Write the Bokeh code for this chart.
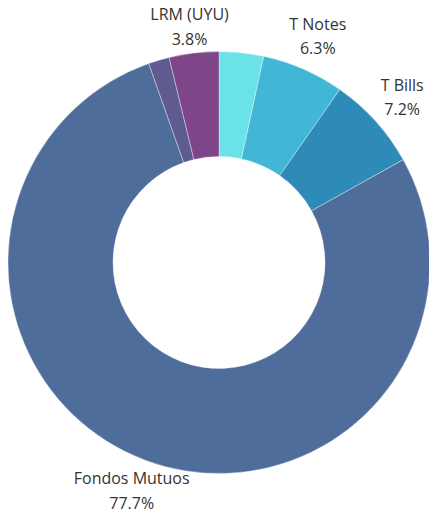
import math
from bokeh.plotting import figure
from bokeh.models import Range1d, ColumnDataSource
from bokeh.core.properties import value
from bokeh.embed import file_html
from bokeh.resources import INLINE

# data (clockwise from 12 o'clock)
categories = ["Otros", "T Notes", "T Bills", "Fondos Mutuos", "Otros 2", "LRM (UYU)"]
shares = [3.4, 6.3, 7.2, 77.7, 1.6, 3.8]
show_label = [False, True, True, True, False, True]
colors = ["#6ae3e8", "#42b6d6", "#2e8bb8", "#4f6d9a", "#5f5a8f", "#7e4588"]

W, H = 429, 516
cx, cy = 218.5, H - 262
r_out, r_in = 211, 106
r_lab = 247
edge_pad = 26  # keep label block inside the canvas

total = sum(shares)
starts, ends, lx, ly, ltxt = [], [], [], [], []
cum = 0.0
for c, s, show in zip(categories, shares, show_label):
    a0 = math.pi / 2 - 2 * math.pi * cum / total
    cum += s
    a1 = math.pi / 2 - 2 * math.pi * cum / total
    starts.append(a0)
    ends.append(a1)
    if show:
        mid = (a0 + a1) / 2
        lx.append(cx + r_lab * math.cos(mid))
        ly.append(min(H - edge_pad, max(edge_pad, cy + r_lab * math.sin(mid))))
        ltxt.append(f"{c}\n{s:.1f}%")

src = ColumnDataSource(dict(start=starts, end=ends, color=colors, cat=categories))

p = figure(width=W, height=H, x_range=Range1d(0, W), y_range=Range1d(0, H),
           output_backend="svg", toolbar_location=None, min_border=0)
p.axis.visible = False
p.grid.visible = False
p.outline_line_color = None
p.background_fill_color = "white"
p.border_fill_color = "white"

p.annular_wedge(x=cx, y=cy, inner_radius=r_in, outer_radius=r_out,
                start_angle="start", end_angle="end", direction="clock",
                fill_color="color", line_color="white", line_width=0.6,
                line_alpha=0.6, source=src)

p.text(x=lx, y=ly, text=ltxt, text_align="center", text_baseline="middle",
       text_font=value("Open Sans"), text_font_size="16px",
       text_color="#333333", text_line_height=1.1)

open("out.html", "w").write(file_html(p, INLINE))
